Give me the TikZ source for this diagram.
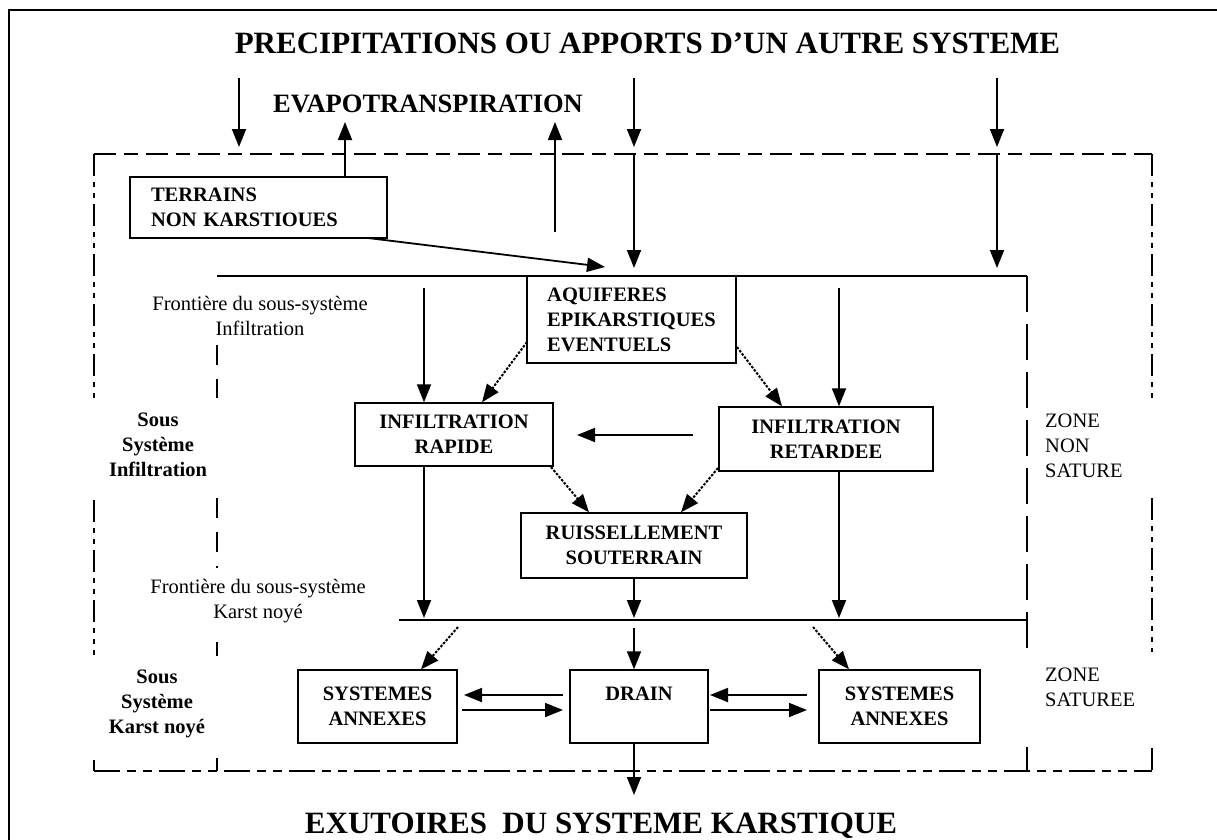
\documentclass[tikz,border=0pt]{standalone}
\usepackage{fontspec}
\setmainfont{Liberation Serif}
\usetikzlibrary{arrows.meta}
\newcommand\mytitlefont{\fontsize{31}{34}\selectfont\bfseries}
\newcommand\myevapfont{\fontsize{26.5}{28}\selectfont\bfseries}
\newcommand\myboxfont{\fontsize{20.5}{25}\selectfont\bfseries}
\newcommand\myrmfont{\fontsize{20.5}{25}\selectfont}
\begin{document}
\begin{tikzpicture}[x=1pt,y=-1pt,
  arr/.style={line width=1.8pt,-{Triangle[length=18pt,width=14pt]}},
  darr/.style={arr,line width=2pt,dash pattern=on 2.5pt off 1.5pt},
  bx/.style={draw,line width=1.4pt,inner sep=0pt,font=\myboxfont,align=center,fill=white},
  solidline/.style={line width=1.6pt},
  topdash/.style={line width=2.2pt,dash pattern=on 22pt off 8pt on 14pt off 8pt},
  botdash/.style={line width=2.2pt,dash pattern=on 26pt off 7pt on 9pt off 7pt on 9pt off 7pt},
  vdashdot/.style={line width=2.4pt,dash pattern=on 22pt off 6pt on 5pt off 6pt on 5pt off 6pt},
  innerdash/.style={line width=2pt,dash pattern=on 20pt off 14pt},
  longdash/.style={line width=2pt,dash pattern=on 36pt off 12pt},
  txt/.style={inner sep=0pt,font=\myrmfont},
  btxt/.style={inner sep=0pt,font=\myboxfont}]
\useasboundingbox (0,0) rectangle (1217,839);
\fill[white] (0,0) rectangle (1217,839);
% outer frame
\draw[line width=2pt] (9,850) -- (9,10) -- (1230,10);

% titles
\node[anchor=base,inner sep=0pt,font=\mytitlefont] (title) at (647.5,53) {PRECIPITATIONS OU APPORTS D’UN AUTRE SYSTEME};
\node[anchor=base,inner sep=0pt,font=\myevapfont] (evap) at (428,112) {EVAPOTRANSPIRATION};
\node[anchor=base,inner sep=0pt,font=\mytitlefont] (exut) at (601,833) {EXUTOIRES\ \ DU SYSTEME KARSTIQUE};

% outer boundary
\draw[topdash] (94,154) -- (1152,154);
\draw[vdashdot] (94,154) -- (94,398) (94,500) -- (94,655) (94,760) -- (94,771);
\draw[vdashdot] (1152,154) -- (1152,398) (1152,498) -- (1152,652) (1152,748) -- (1152,771);
\draw[botdash] (94,771) -- (1152,771);

% inner boundaries
\draw[solidline] (217,276) -- (1027,276);
\draw[longdash] (1027,276) -- (1027,653) (1027,747) -- (1027,771);
\draw[solidline] (399,620) -- (1027,620);
\draw[innerdash] (217,345) -- (217,398) (217,498) -- (217,568) (217,642) -- (217,656) (217,758) -- (217,771);

% boxes
\node[bx,text width=215pt,align=left,inner xsep=21pt,minimum height=61pt] (terr) at (258.5,207.5) {TERRAINS\\NON KARSTIOUES};
\node[bx,minimum width=209pt,minimum height=87pt,align=left] (aqui) at (631.5,319.5) {AQUIFERES\\EPIKARSTIQUES\\EVENTUELS};
\node[bx,minimum width=198pt,minimum height=63pt] (rap) at (454,434.5) {INFILTRATION\\RAPIDE};
\node[bx,minimum width=214pt,minimum height=64pt] (ret) at (826,439) {INFILTRATION\\RETARDEE};
\node[bx,minimum width=226pt,minimum height=65pt] (ruis) at (634,545.5) {RUISSELLEMENT\\SOUTERRAIN};
\node[bx,minimum width=159pt,minimum height=73pt] (sysl) at (377.5,706.5) {SYSTEMES\\ANNEXES};
\node[bx,minimum width=138pt,minimum height=73pt] (drain) at (639,706.5) {DRAIN\\\phantom{A}};
\node[bx,minimum width=161pt,minimum height=73pt] (sysr) at (899.5,706.5) {SYSTEMES\\ANNEXES};

% side texts
\node[txt,align=center] (fr1) at (260,315.5) {Frontière du sous-système\\Infiltration};
\node[txt,align=center] (fr2) at (258,601.5) {Frontière du sous-système\\Karst noyé};
\node[btxt,align=center] (ssi) at (158,445.2) {Sous\\Système\\Infiltration};
\node[btxt,align=center] (ssk) at (157,703.5) {Sous\\Système\\Karst noyé};
\node[txt,align=left,anchor=west] (zns) at (1045,445.7) {ZONE\\NON\\SATURE};
\node[txt,align=left,anchor=west] (zs) at (1045,687.7) {ZONE\\SATUREE};

% coordinates
\coordinate (p1s) at (239,78);  \coordinate (p1e) at (239,147);
\coordinate (p2s) at (634,78);  \coordinate (p2e) at (634,147);
\coordinate (p2t) at (634,155); \coordinate (p2b) at (634,268);
\coordinate (p3s) at (997,78);  \coordinate (p3e) at (997,147);
\coordinate (p3t) at (997,155); \coordinate (p3b) at (997,268);
\coordinate (e1) at (345,122);
\coordinate (e2s) at (555,232); \coordinate (e2) at (555,122);
\coordinate (ts) at (368,238);  \coordinate (ta) at (605,267);
\coordinate (v1s) at (424,288); \coordinate (v2s) at (839,288);
\coordinate (d1s) at (527,342); \coordinate (d1e) at (482,403);
\coordinate (d2s) at (737,347); \coordinate (d2e) at (782,407);
\coordinate (h1s) at (693,435); \coordinate (h1e) at (577,435);
\coordinate (d3s) at (551,467); \coordinate (d3e) at (589,513);
\coordinate (d4s) at (718,468); \coordinate (d4e) at (681,513);
\coordinate (v3) at (424,618);  \coordinate (v4) at (634,618); \coordinate (v5) at (839,618);
\coordinate (d5s) at (458,627); \coordinate (d5e) at (421,670);
\coordinate (v6s) at (634,628);
\coordinate (d6s) at (813,627); \coordinate (d6e) at (849,670);
\coordinate (a1s) at (563,695); \coordinate (a1e) at (464,695);
\coordinate (a2s) at (462,710); \coordinate (a2e) at (563,710);
\coordinate (a3s) at (807,695); \coordinate (a3e) at (710,695);
\coordinate (a4s) at (710,710); \coordinate (a4e) at (807,710);
\coordinate (v7) at (634,795);

% precipitation arrows
\draw[arr] (p1s) -- (p1e);
\draw[arr] (p2s) -- (p2e);
\draw[arr] (p2t) -- (p2b);
\draw[arr] (p3s) -- (p3e);
\draw[arr] (p3t) -- (p3b);
% evapotranspiration
\draw[arr] (terr.north -| e1) -- (e1);
\draw[arr] (e2s) -- (e2);
% terrains -> aquiferes
\draw[arr] (ts) -- (ta);
% infiltration
\draw[arr] (v1s) -- (v1s |- rap.north);
\draw[arr] (v2s) -- (v2s |- ret.north);
\draw[darr] (d1s) -- (d1e |- rap.north);
\draw[darr] (d2s) -- (d2e |- ret.north);
\draw[arr] (h1s) -- (h1e);
\draw[darr] (d3s) -- (d3e |- ruis.north);
\draw[darr] (d4s) -- (d4e |- ruis.north);
\draw[arr] (v3 |- rap.south) -- (v3);
\draw[arr] (v4 |- ruis.south) -- (v4);
\draw[arr] (v5 |- ret.south) -- (v5);
% karst noye
\draw[darr] (d5s) -- (d5e |- sysl.north);
\draw[arr] (v6s) -- (v6s |- drain.north);
\draw[darr] (d6s) -- (d6e |- sysr.north);
\draw[arr] (a1s) -- (a1e);
\draw[arr] (a2s) -- (a2e);
\draw[arr] (a3s) -- (a3e);
\draw[arr] (a4s) -- (a4e);
\draw[arr] (v7 |- drain.south) -- (v7);
\end{tikzpicture}
\end{document}
